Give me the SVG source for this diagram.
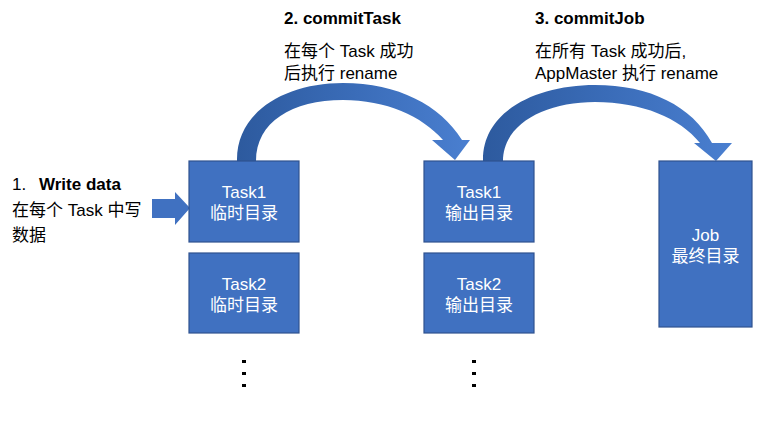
<svg xmlns="http://www.w3.org/2000/svg" width="769" height="421" viewBox="0 0 769 421">
<style>
.box{fill:#4071c1;stroke:#2f528f;stroke-width:1.2}
.bt{font-family:"Liberation Sans","Noto Sans CJK SC",sans-serif;font-size:17px;fill:#fff;text-anchor:middle}
.t{font-family:"Liberation Sans","Noto Sans CJK SC",sans-serif;font-size:17px;fill:#000}
.b{font-weight:bold}
.dot{fill:#000}
</style>
<defs>
<linearGradient id="g" x1="0" y1="0" x2="1" y2="0">
<stop offset="0" stop-color="#2d5a9e"/>
<stop offset="0.5" stop-color="#3a6cb8"/>
<stop offset="1" stop-color="#4a7fd0"/>
</linearGradient>
</defs>
<rect width="769" height="421" fill="#fff"/>
<g id="labels">
<text class="t" x="12" y="190">1.</text>
<text class="t b" x="39" y="190">Write data</text>
<text class="t" x="12" y="216">在每个 Task 中写</text>
<text class="t" x="12" y="241">数据</text>
<text class="t b" x="284" y="24">2. commitTask</text>
<text class="t" x="284" y="57">在每个 Task 成功</text>
<text class="t" x="284" y="79">后执行 rename</text>
<text class="t b" x="535" y="24">3. commitJob</text>
<text class="t" x="535" y="57">在所有 Task 成功后,</text>
<text class="t" x="535" y="79">AppMaster 执行 rename</text>
</g>
<g id="connectors">
<path fill="#4071c1" d="M152,199 L175,199 L175,192 L190,208 L175,225 L175,218 L152,218 Z"/>
<path fill="url(#g)" d="M237,161 C236,112 285,83 343,83 C398,83 440,105 462,140 L470,140 L455,160 L432,140 L443,140 C422,116 386,100 343,100 C292,100 256,122 256,161 Z"/>
<path fill="url(#g)" d="M483,161 C482,112 535,85 595,85 C650,85 692,106 712,143 L732,143 L716,161 L694,143 L700,143 C680,118 642,102 595,102 C545,102 503,124 503,161 Z"/>
</g>
<g id="task1-tmp">
<rect class="box" x="189" y="161" width="110" height="81"/>
<text class="bt" x="244" y="198">Task1</text>
<text class="bt" x="244" y="219">临时目录</text>
</g>
<g id="task2-tmp">
<rect class="box" x="189" y="253" width="110" height="80"/>
<text class="bt" x="244" y="290">Task2</text>
<text class="bt" x="244" y="311">临时目录</text>
</g>
<g id="task1-out">
<rect class="box" x="424" y="161" width="110" height="81"/>
<text class="bt" x="479" y="198">Task1</text>
<text class="bt" x="479" y="219">输出目录</text>
</g>
<g id="task2-out">
<rect class="box" x="424" y="253" width="110" height="80"/>
<text class="bt" x="479" y="290">Task2</text>
<text class="bt" x="479" y="311">输出目录</text>
</g>
<g id="job">
<rect class="box" x="659" y="161" width="93" height="166"/>
<text class="bt" x="705.5" y="241">Job</text>
<text class="bt" x="705.5" y="262">最终目录</text>
</g>
<g id="dots-left">
<rect class="dot" x="242" y="360" width="4" height="3"/>
<rect class="dot" x="242" y="372" width="4" height="3"/>
<rect class="dot" x="242" y="384" width="4" height="3"/>
</g>
<g id="dots-right">
<rect class="dot" x="472" y="360" width="4" height="3"/>
<rect class="dot" x="472" y="372" width="4" height="3"/>
<rect class="dot" x="472" y="384" width="4" height="3"/>
</g>
</svg>
